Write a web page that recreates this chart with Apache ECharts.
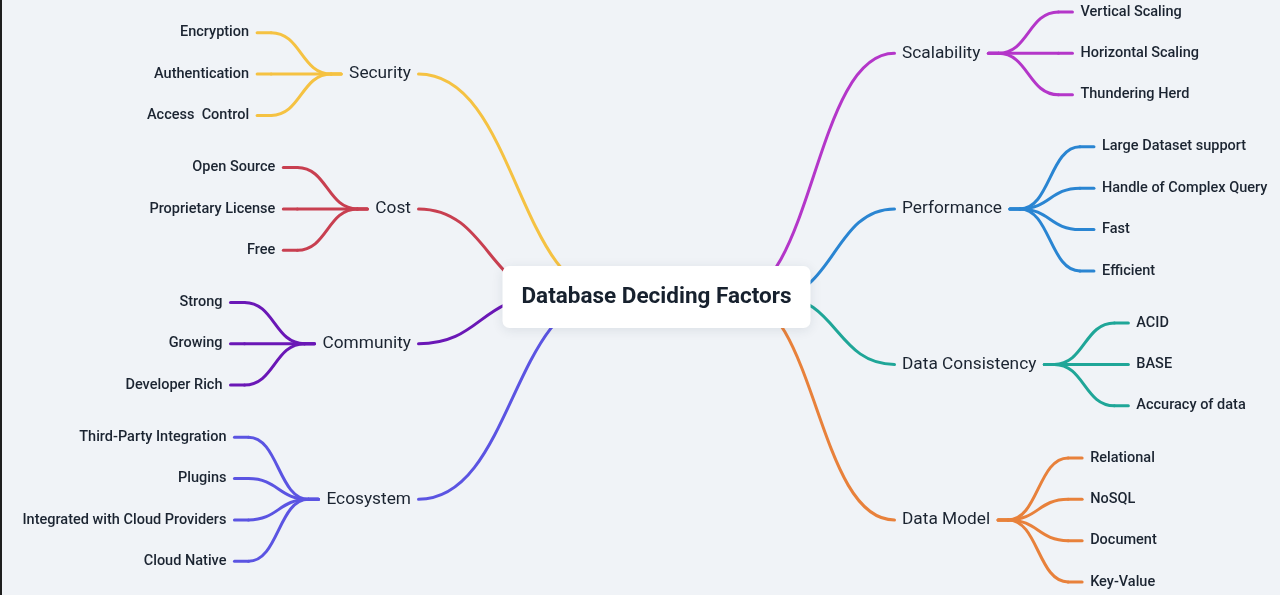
<!DOCTYPE html>
<html>
<head>
<meta charset="utf-8">
<style>
  html, body { margin: 0; padding: 0; background: #f0f3f7; }
  #chart { width: 1280px; height: 595px; }
</style>
<script src="https://cdn.jsdelivr.net/npm/echarts@6/dist/echarts.min.js"></script>
</head>
<body>
<div id="chart"></div>
<script>
var rootTitle = 'Database Deciding Factors';

var leftBranches = ['Security', 'Cost', 'Community', 'Ecosystem'];
var leftLeaves = [
  ['Encryption', 'Authentication', 'Access  Control'],
  ['Open Source', 'Proprietary License', 'Free'],
  ['Strong', 'Growing', 'Developer Rich'],
  ['Third-Party Integration', 'Plugins', 'Integrated with Cloud Providers', 'Cloud Native']
];
var leftColors = ['#f5c242', '#c83f50', '#6a17b6', '#5b54e2'];

var rightBranches = ['Scalability', 'Performance', 'Data Consistency', 'Data Model'];
var rightLeaves = [
  ['Vertical Scaling', 'Horizontal Scaling', 'Thundering Herd'],
  ['Large Dataset support', 'Handle of Complex Query', 'Fast', 'Efficient'],
  ['ACID', 'BASE', 'Accuracy of data'],
  ['Relational', 'NoSQL', 'Document', 'Key-Value']
];
var rightColors = ['#b436c9', '#2a85d2', '#1fa698', '#e8813b'];

var FONT = 'Roboto, "Noto Sans", sans-serif';
var leafFont = '500 14.5px ' + FONT;
var branchFont = '17.3px ' + FONT;
var rootFont = 'bold 22.5px ' + FONT;
var textColor = '#1b2431';
var groupGap = 0.26; // extra room between leaf groups, in leaf rows

var measureCtx = document.createElement('canvas').getContext('2d');
function textWidth(str, font) {
  measureCtx.font = font;
  return measureCtx.measureText(str).width;
}

// leaf rows for one side, centred on the root row (0)
function layoutSide(side, names, leaves, colors) {
  var rows = [], cursor = 0;
  leaves.forEach(function (group) {
    rows.push(group.map(function () { var r = cursor; cursor += 1; return r; }));
    cursor += groupGap;
  });
  var span = cursor - 1 - groupGap;
  return names.map(function (name, i) {
    var leafRows = rows[i].map(function (r) { return r - span / 2; });
    return {
      side: side,
      name: name,
      leaves: leaves[i],
      rows: leafRows,
      row: (leafRows[0] + leafRows[leafRows.length - 1]) / 2,
      color: colors[i]
    };
  });
}

var branches = layoutSide(-1, leftBranches, leftLeaves, leftColors)
  .concat(layoutSide(1, rightBranches, rightLeaves, rightColors));

// how far the trunk curve runs towards the root (hidden under the box)
var reach = { '-1': [105, 0.41], '1': [98, 0.26] };

function stroke(color) {
  return { stroke: color, lineWidth: 3, lineCap: 'round', fill: null };
}

function renderBranch(params, api) {
  var b = branches[params.dataIndex];
  var s = b.side;
  var a = api.coord([s, b.row]);
  var root = api.coord([0, 0]);
  var children = [];

  // trunk: root -> branch label
  var x0 = a[0] - s * 7.5;
  var d = reach[s][0] + reach[s][1] * Math.abs(root[1] - a[1]);
  children.push({
    type: 'bezierCurve',
    shape: {
      x1: x0, y1: a[1],
      cpx1: x0 - s * d / 2, cpy1: a[1],
      cpx2: x0 - s * d / 2, cpy2: root[1],
      x2: x0 - s * d, y2: root[1]
    },
    style: stroke(b.color)
  });

  children.push({
    type: 'text',
    style: {
      text: b.name, x: a[0], y: a[1],
      align: s < 0 ? 'right' : 'left', verticalAlign: 'middle',
      font: branchFont, fill: textColor
    }
  });

  var outer = a[0] + s * textWidth(b.name, branchFont);
  var leafEdge = outer + s * 100;
  b.leaves.forEach(function (leaf, i) {
    var ly = api.coord([s, b.rows[i]])[1];
    var c0 = outer + s * 18, c1 = leafEdge - s * 22, cm = (c0 + c1) / 2;
    children.push({ type: 'line', shape: { x1: outer + s * 8, y1: a[1], x2: c0, y2: a[1] }, style: stroke(b.color) });
    children.push({
      type: 'bezierCurve',
      shape: { x1: c0, y1: a[1], cpx1: cm, cpy1: a[1], cpx2: cm, cpy2: ly, x2: c1, y2: ly },
      style: stroke(b.color)
    });
    children.push({ type: 'line', shape: { x1: c1, y1: ly, x2: leafEdge - s * 8, y2: ly }, style: stroke(b.color) });
    children.push({
      type: 'text',
      style: {
        text: leaf, x: leafEdge, y: ly,
        align: s < 0 ? 'right' : 'left', verticalAlign: 'middle',
        font: leafFont, fill: textColor
      }
    });
  });
  return { type: 'group', children: children };
}

function renderRoot(params, api) {
  var c = api.coord([0, 0]);
  var w = textWidth(rootTitle, rootFont) + 38, h = 62;
  return {
    type: 'group',
    children: [
      {
        type: 'rect',
        shape: { x: c[0] - w / 2, y: c[1] - h / 2, width: w, height: h, r: 7 },
        style: { fill: '#ffffff', shadowBlur: 12, shadowOffsetY: 2, shadowColor: 'rgba(30,45,70,0.10)' }
      },
      {
        type: 'text',
        style: {
          text: rootTitle, x: c[0], y: c[1],
          align: 'center', verticalAlign: 'middle',
          font: rootFont, fill: '#17212e'
        }
      }
    ]
  };
}

var chart = echarts.init(document.getElementById('chart'));
chart.setOption({
  backgroundColor: '#f0f3f7',
  animation: false,
  grid: { left: 411, right: 378, top: 0, bottom: 1 },
  xAxis: { type: 'value', min: -1, max: 1, show: false },
  yAxis: { type: 'value', min: -7.18, max: 7.18, inverse: true, show: false },
  graphic: [{
    type: 'rect', left: 0, top: 0,
    shape: { width: 2, height: 595 },
    style: { fill: '#1e1e1e' }
  }],
  series: [
    {
      type: 'custom',
      silent: true,
      z: 2,
      renderItem: renderBranch,
      data: branches.map(function (b) { return [b.side, b.row]; })
    },
    {
      type: 'custom',
      silent: true,
      z: 3,
      renderItem: renderRoot,
      data: [[0, 0]]
    }
  ]
});
</script>
</body>
</html>
